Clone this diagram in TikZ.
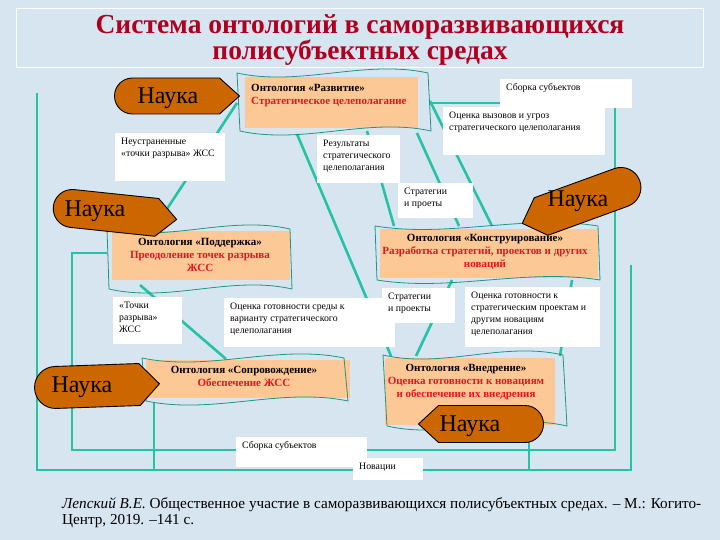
\documentclass[tikz,border=0pt]{standalone}
\usepackage{fontspec}
\setmainfont{Liberation Serif}
\usetikzlibrary{calc}
\definecolor{bgblue}{RGB}{215,229,241}
\definecolor{tealline}{RGB}{38,194,164}
\definecolor{wavec}{RGB}{30,150,130}
\definecolor{peach}{RGB}{252,200,150}
\definecolor{naukabrown}{RGB}{204,102,0}
\definecolor{titlered}{RGB}{176,0,32}
\definecolor{txtred}{RGB}{232,20,30}
\tikzset{
  conn/.style={tealline, line width=2.6pt},
  link/.style={tealline, line width=1.1pt},
  wavebox/.style={wavec, line width=0.8pt},
  fillbox/.style={fill=peach, draw=none, inner sep=0pt, anchor=north west},
  wbox/.style={fill=white, inner sep=0pt, anchor=north west, font=\fontsize{9.8}{12}\selectfont},
  naukastyle/.style={fill=naukabrown, draw=black, line width=0.9pt, line join=round},
  naukatext/.style={font=\fontsize{24}{24}\selectfont, inner sep=0pt},
  ontotext/.style={font=\fontsize{11}{13}\selectfont\bfseries, align=center, inner sep=0pt},
  titlefont/.style={font=\fontsize{27.5}{28}\selectfont\bfseries, text=titlered, inner sep=0pt},
}
\newcommand\wavepath[6]{%
  \pgfmathsetmacro\wwd{#3-#1}%
  \draw[wavebox] (#1,#2) .. controls ({#1+\wwd/3},{#2+#6}) and ({#1+2*\wwd/3},{#2-#6}) .. (#3,#2)
    -- ({#3+#5},#4) .. controls ({#1+#5+2*\wwd/3},{#4-#6}) and ({#1+#5+\wwd/3},{#4+#6}) .. ({#1+#5},#4) -- cycle;}
\newcommand\naukashape[5]{%
  \begin{scope}[shift={(#1,#2)},rotate=#3]
  \pgfmathsetmacro\nhw{#4/2}\pgfmathsetmacro\nhh{#5/2}%
  \draw[naukastyle] ({-\nhw+\nhh},{-\nhh}) -- ({\nhw-20},{-\nhh}) -- (\nhw,0) -- ({\nhw-20},\nhh) -- ({-\nhw+\nhh},\nhh)
    .. controls ({-\nhw+0.4477*\nhh},\nhh) and ({-\nhw},{0.5523*\nhh}) .. ({-\nhw},0)
    .. controls ({-\nhw},{-0.5523*\nhh}) and ({-\nhw+0.4477*\nhh},{-\nhh}) .. ({-\nhw+\nhh},{-\nhh}) -- cycle;
  \end{scope}}
\newcommand\wb[6]{%
  \node[wbox] (#1) at (#2,#3) {\parbox[b][#5pt][t]{#4pt}{\vspace*{2.5pt}\raggedright\leftskip=6pt\strut #6\par}};}
\begin{document}
\begin{tikzpicture}[x=1pt,y=-1pt]
\useasboundingbox (0,0) rectangle (720,540);
\fill[bgblue] (0,0) rectangle (720,540);
% title
\node[draw=white, line width=0.8pt, minimum width=687pt, minimum height=59pt, inner sep=0pt, anchor=north west] (frame) at (16,8) {};
\node[titlefont, anchor=base] (t1) at (360,33.5) {Система онтологий в саморазвивающихся};
\node[titlefont, anchor=base] (t2) at (360,59.5) {полисубъектных средах};
% named ends
\coordinate (razvL) at (237,103);
\coordinate (razvR) at (431,103);
\coordinate (razvB1) at (297,134);
\coordinate (razvB2) at (367,131);
\coordinate (razvB3) at (417,133);
\coordinate (razvR2) at (430,101);
\coordinate (poddT) at (153,230);
\coordinate (poddL) at (107,253);
\coordinate (poddB) at (140,285);
\coordinate (konT1) at (394,226);
\coordinate (konT2) at (459,226);
\coordinate (konT3) at (492,226);
\coordinate (konB1) at (452,280);
\coordinate (konB2) at (572,280);
\coordinate (soprT) at (226,359);
\coordinate (soprB) at (154,403);
\coordinate (vnT1) at (391,356);
\coordinate (vnT2) at (416,356);
\coordinate (vnT3) at (560,356);
\coordinate (naukaB) at (529,441);
\coordinate (freeA) at (37,93);
\coordinate (freeB) at (631,265);
% thin connectors
\draw[link] (poddL) -- (72,253) -- (72,450) -- (615,450) -- (615,103) -- (razvR);
\draw[link] (freeA) -- (37,470) -- (631,470) -- (freeB);
\draw[link] (soprB) -- (154,470);
\draw[link] (naukaB) -- (529,470);
% thick connectors
\draw[conn] (razvL) -- (poddT);
\draw[conn] (razvB1) -- (vnT1);
\draw[conn] (razvB2) -- (konT1);
\draw[conn] (razvB3) -- (konT2);
\draw[conn] (razvR2) -- (konT3);
\draw[conn] (poddB) -- (soprT);
\draw[conn] (konB1) -- (vnT2);
\draw[conn] (konB2) -- (vnT3);
% banners
\node[fillbox, minimum width=173pt, minimum height=51pt] (razv) at (245,77) {};
\node[fillbox, minimum width=178pt, minimum height=49pt] (podd) at (112,231) {};
\node[fillbox, minimum width=218pt, minimum height=49pt] (kons) at (380,229) {};
\node[fillbox, minimum width=204pt, minimum height=38pt] (sopr) at (146,360) {};
\node[fillbox, minimum width=170pt, minimum height=67pt] (vned) at (385,358) {};
\wavepath{237}{73}{428}{131}{3}{14}
\wavepath{107}{229}{290}{289}{2}{14}
\wavepath{375}{226}{598}{280}{2}{12}
\wavepath{142}{358}{344}{401}{4}{14}
\wavepath{383}{355}{563}{426}{4}{14}
% white boxes
\wb{neustr}{115}{133}{110}{48}{Неустраненные\\«точки разрыва» ЖСС}
\wb{result}{317}{135}{83}{48}{Результаты\\стратегического\\целеполагания}
\wb{strat1}{398}{183}{75}{35}{Стратегии\\и проеты}
\wb{sborka1}{500}{79}{132}{29}{Сборка субъектов}
\wb{ocvyz}{443}{107}{162}{48}{Оценка вызовов и угроз\\стратегического целеполагания}
\wb{tochki}{113}{297}{69}{47}{«Точки\\разрыва»\\ЖСС}
\wb{ocsred}{224}{298}{171}{49}{Оценка готовности среды к\\варианту стратегического\\целеполагания}
\wb{strat2}{382}{288}{73}{35}{Стратегии\\и проекты}
\wb{ocnov}{465}{287}{135}{60}{Оценка готовности к\\стратегическим проектам и\\другим новациям\\целеполагания}
\wb{sborka2}{236}{437}{131}{30}{Сборка субъектов}
\wb{novac}{353}{458}{70}{22}{Новации}
% Nauka shapes
\naukashape{177}{96}{0}{125}{36}
\naukashape{115}{213}{-6}{124}{38}
\naukashape{581}{202}{200}{125}{40}
\naukashape{97}{386}{2}{125}{42}
\naukashape{481}{424}{180}{125}{37}
\node[naukatext] (n1) at (168,98) {Наука};
\node[naukatext] (n2) at (95,211) {Наука};
\node[naukatext] (n3) at (578,201) {Наука};
\node[naukatext] (n4) at (82,387) {Наука};
\node[naukatext] (n5) at (470,426) {Наука};
% banner texts
\node[ontotext, align=left, anchor=north west] (razvtxt) at (251,84.5) {Онтология «Развитие»\\\textcolor{txtred}{Стратегическое целеполагание}};
\node[ontotext] (poddtxt) at (200,255) {Онтология «Поддержка»\\\textcolor{txtred}{Преодоление точек разрыва}\\\textcolor{txtred}{ЖСС}};
\node[ontotext] (konstxt) at (485,251.5) {Онтология «Конструирование»\\\textcolor{txtred}{Разработка стратегий, проектов и других}\\\textcolor{txtred}{новаций}};
\node[ontotext] (soprtxt) at (244,376) {Онтология «Сопровождение»\\\textcolor{txtred}{Обеспечение ЖСС}};
\node[ontotext] (vnedtxt) at (466,382.5) {Онтология «Внедрение»\\\textcolor{txtred}{Оценка готовности к новациям}\\\textcolor{txtred}{и обеспечение их внедрения}};
% citation
\node[anchor=north west, inner sep=0pt, align=left, font=\fontsize{15.2}{16.5}\selectfont] (cite) at (62,497) {\textit{Лепский В.Е.} Общественное участие в саморазвивающихся полисубъектных средах. – М.: Когито-\\Центр, 2019. –141 с.};
\end{tikzpicture}
\end{document}
